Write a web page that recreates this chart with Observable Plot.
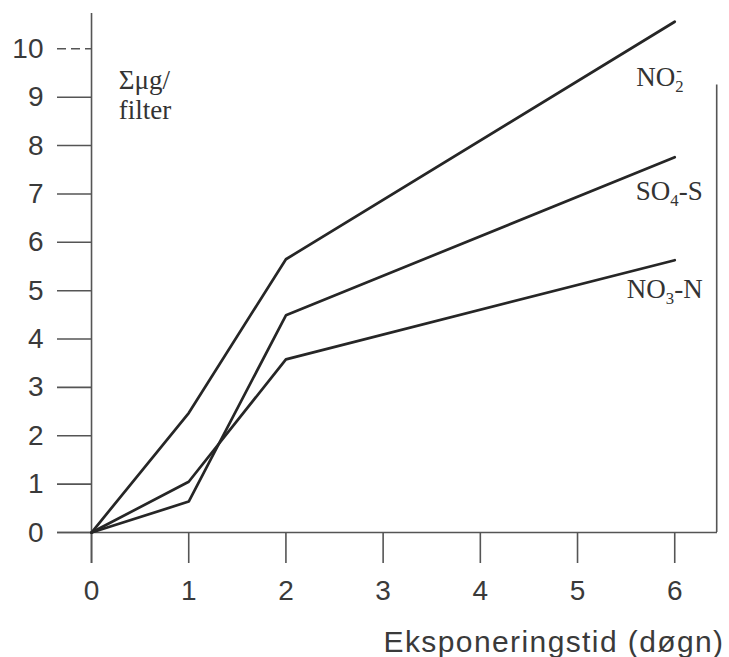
<!DOCTYPE html>
<html>
<head>
<meta charset="utf-8">
<script src="https://cdn.jsdelivr.net/npm/d3@7"></script>
<script src="https://cdn.jsdelivr.net/npm/@observablehq/plot@0.6"></script>
<style>
  html, body { margin: 0; padding: 0; background: #fff; }
</style>
</head>
<body>
<div id="chart"></div>
<script>
// ---- data ----
const days = [0, 1, 2, 6];
const no2 = [0, 2.47, 5.65, 10.56];
const so4 = [0, 0.64, 4.49, 7.76];
const no3 = [0, 1.05, 3.58, 5.63];
const seriesNames = ["NO₂⁻", "SO₄-S", "NO₃-N"];
const xTicks = [0, 1, 2, 3, 4, 5, 6];
const yTicks = [0, 1, 2, 3, 4, 5, 6, 7, 8, 9];
const yTickDashed = [10];
const xLabel = "Eksponeringstid (døgn)";
const yLabel = "Σμg/\nfilter";

// ---- build table ----
const seriesValues = [no2, so4, no3];
const rows = [];
seriesNames.forEach((name, i) => days.forEach((d, j) => rows.push({series: name, day: d, value: seriesValues[i][j]})));

// layout constants (not data)
const xDomain = [-0.35, 6.44];
const yDomain = [-0.64, 10.73];
const labelY = [9.40, 7.05, 5.02];
const labelDx = [9, 28, 28];
const frameTop = 9.25;

const axisColor = "#555";
const textColor = "#3a3a3a";
const lineColor = "#262626";
const serif = "Liberation Serif, Times New Roman, serif";

const chart = Plot.plot({
  width: 729,
  height: 657,
  marginLeft: 57,
  marginRight: 12,
  marginTop: 13,
  marginBottom: 94,
  style: {fontFamily: "Liberation Sans, Arial, sans-serif", fontSize: "28px", background: "#fff"},
  x: {domain: xDomain, axis: null, label: null},
  y: {domain: yDomain, axis: null, label: null},
  marks: [
    Plot.axisY(yTicks.concat(yTickDashed), {anchor: "left", tickSize: 0, tickPadding: 14, fontSize: 28, fill: textColor, label: null}),
    Plot.axisX(xTicks, {anchor: "bottom", tickSize: 0, tickPadding: 17, fontSize: 28, fill: textColor, label: null}),
    Plot.ruleY(yTicks, {y: d => d, x1: xDomain[0], x2: 0, stroke: axisColor, strokeWidth: 1.6}),
    Plot.ruleY(yTickDashed, {y: d => d, x1: xDomain[0], x2: 0, stroke: axisColor, strokeWidth: 1.4, strokeDasharray: "9,5"}),
    Plot.ruleX(xTicks, {x: d => d, y1: 0, y2: yDomain[0], stroke: axisColor, strokeWidth: 1.6}),
    Plot.ruleX([0], {stroke: axisColor, strokeWidth: 1.6}),
    Plot.ruleY([0], {stroke: axisColor, strokeWidth: 1.6}),
    Plot.ruleX([xDomain[1]], {y1: 0, y2: frameTop, stroke: axisColor, strokeWidth: 1.6, dx: -0.8}),
    Plot.line(rows, {x: "day", y: "value", z: "series", stroke: lineColor, strokeWidth: 2.7, strokeLinejoin: "miter"}),
    ...seriesNames.map((name, i) =>
      Plot.text([name], {x: days[days.length - 1], y: labelY[i], text: d => d, dx: labelDx[i], textAnchor: "end", lineAnchor: "middle", fontFamily: serif, fontSize: 27, fill: "#333"})
    ),
    Plot.text([yLabel], {x: 0.28, y: 9.62, text: d => d, textAnchor: "start", lineAnchor: "top", lineHeight: 1.12, fontFamily: serif, fontSize: 27, fill: "#333"}),
    Plot.text([xLabel], {frameAnchor: "bottom-right", text: d => d, textAnchor: "end", lineAnchor: "bottom", dx: 7, dy: 88, fontSize: 30, fill: textColor})
  ]
});
document.getElementById("chart").appendChild(chart);

// typographic post-processing: real sub/superscripts and letter spacing
const subMap = {"₂": "2", "₃": "3", "₄": "4"};
d3.select(chart).selectAll("text").each(function() {
  const el = d3.select(this);
  const t = this.textContent;
  if (t === xLabel) { el.style("letter-spacing", "1.4px"); return; }
  if (!/[₂₃₄⁻]/.test(t) || this.querySelector("tspan")) return;
  el.text(null);
  let buf = "";
  let prevSub = false;
  const flush = () => { if (buf) { el.append("tspan").text(buf).attr("dy", prevSub ? "-0.22em" : null); prevSub = false; buf = ""; } };
  for (const ch of t) {
    if (subMap[ch]) {
      flush();
      el.append("tspan").text(subMap[ch]).attr("font-size", "0.62em").attr("dy", "0.35em");
      prevSub = true;
    } else if (ch === "⁻") {
      el.append("tspan").text("-").attr("font-size", "0.62em").attr("dx", "-0.45em").attr("dy", "-0.95em");
      prevSub = false;
    } else {
      buf += ch;
    }
  }
  flush();
});
</script>
</body>
</html>
